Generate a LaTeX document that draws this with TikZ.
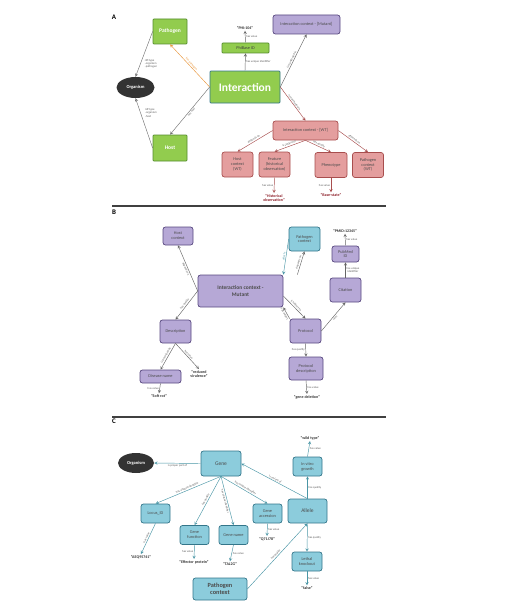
\documentclass[tikz,border=0pt]{standalone}
\usepackage{fontspec}
\setmainfont{Carlito}
\usetikzlibrary{shapes.geometric}
\definecolor{phigreen}{RGB}{146,204,78}
\definecolor{phigreenline}{RGB}{84,140,44}
\definecolor{phipurple}{RGB}{182,168,214}
\definecolor{phipurpleline}{RGB}{88,72,128}
\definecolor{phired}{RGB}{228,158,158}
\definecolor{phiredline}{RGB}{168,78,78}
\definecolor{phiblue}{RGB}{140,204,220}
\definecolor{phiblueline}{RGB}{52,118,138}
\definecolor{phiteal}{RGB}{74,150,166}
\definecolor{phiorange}{RGB}{232,150,60}
\definecolor{valred}{RGB}{140,30,40}

\begin{document}
\begin{tikzpicture}[x=1pt,y=-1pt,>=stealth,line width=0.45pt,
  every node/.style={font=\fontsize{4.3}{4.8}\selectfont,align=center,inner sep=1pt},
  gbox/.style={rectangle,rounded corners=0.8pt,draw=phigreenline,fill=phigreen,line width=0.7pt},
  pbox/.style={rectangle,rounded corners=2.5pt,draw=phipurpleline,fill=phipurple,line width=0.7pt,text=black!70},
  rbox/.style={rectangle,rounded corners=2.5pt,draw=phiredline,fill=phired,line width=0.7pt,text=black!70},
  bbox/.style={rectangle,rounded corners=2.5pt,draw=phiblueline,fill=phiblue,line width=0.7pt,text=black!70},
  org/.style={ellipse,fill=black!80,text=white,minimum width=38,minimum height=21,font=\bfseries\fontsize{4.5}{5}\selectfont},
  lab/.style={font=\fontsize{2.9}{3.2}\selectfont,text=black!65,inner sep=0.8pt},
  val/.style={font=\bfseries\fontsize{4}{4.5}\selectfont,text=black!80},
  panel/.style={font=\bfseries\fontsize{7}{7}\selectfont}]
\useasboundingbox (0,0) rectangle (504,610);

% ---------------- A ----------------
\path
(114,17) node [panel] (labA) {A}
(170,31.5) node [gbox,minimum width=34,minimum height=25,text=white,font=\bfseries\fontsize{5.5}{6}\selectfont] (pathogen) {Pathogen}
(135.5,87.5) node [org] (organismA) {Organism}
(170,148) node [gbox,minimum width=34,minimum height=26,text=white,font=\bfseries\fontsize{5.5}{6}\selectfont] (host) {Host}
(245,87) node [gbox,draw=phiblueline,minimum width=70,minimum height=32,text=white,font=\bfseries\fontsize{11.5}{12}\selectfont] (interaction) {Interaction}
(245.5,48) node [gbox,minimum width=47,minimum height=10,text=black!75] (phiid) {PhiBase ID}
(245,28) node [val] (phi104) {``PHI:104''}
(306.5,24.5) node [pbox,minimum width=67,minimum height=19] (mutantA) {Interaction context - [Mutant]}
(305.5,130.5) node [rbox,minimum width=65,minimum height=19] (wt) {Interaction context - [WT]}
(237.5,164.5) node [rbox,minimum width=31,minimum height=25] (hostwt) {Host\\context\\(WT)}
(274.5,164.5) node [rbox,minimum width=31,minimum height=25] (feature) {Feature\\(historical\\observation)}
(331,165) node [rbox,minimum width=32,minimum height=25] (phenotype) {Phenotype}
(368,165) node [rbox,minimum width=31,minimum height=25] (pathwt) {Pathogen\\context\\(WT)}
(274,198) node [val,text=valred] (histobs) {``Historical\\observation''}
(331,195) node [val,text=valred] (basestate) {``Base-state''}
;

\draw[->,phiorange] (interaction.west) -- (pathogen.south) node[midway,sloped,above,lab,text=phiorange] {has pathogen};
\draw[->,black!55] (interaction.west) -- (host.north) node[midway,sloped,below,lab] {has host};
\draw[->,black!55] (pathogen.west) -- (organismA.north);
\draw[->,black!55] (host.west) -- (organismA.south);
\node[lab,align=left] (rdfpath) at (151,64) {rdf:type\\-organism\\-pathogen};
\node[lab,align=left] (rdfhost) at (151,113) {rdf:type\\-organism\\-host};
\draw[->,black!60] (interaction.north) -- (phiid.south) node[midway,right,lab] {has unique identifier};
\draw[->,black!60] (phiid.north) -- (phi104.south) node[midway,right,lab] {has value};
\draw[->,black!60] (interaction.east) -- (mutantA.south) node[midway,sloped,above,lab] {is manifested in};
\begin{scope}[every path/.style={draw=phiredline},->]
\path (interaction.east) -- (wt.north) node[midway,sloped,above,lab] {is manifested in};
\path (wt.west) -- (hostwt.north) node[midway,sloped,above,lab] {depends on};
\path (wt.south) -- (feature.north) node[midway,sloped,above,lab] {is subject to};
\path (wt.south) -- (phenotype.north) node[midway,sloped,above,lab] {has quality};
\path (wt.east) -- (pathwt.north) node[midway,sloped,above,lab] {depends on};
\path (feature.south) -- (histobs.north) node[midway,left,lab] {has value};
\path (phenotype.south) -- (basestate.north) node[midway,left,lab] {has value};
\end{scope}

\draw[line width=1.1pt,black!75] (112,206) -- (386,206);

% ---------------- B ----------------
\path
(114,212) node [panel] (labB) {B}
(178,236) node [pbox,minimum width=30,minimum height=18] (hostctx) {Host\\context}
(240.5,291) node [pbox,minimum width=85,minimum height=32,font=\bfseries\fontsize{5.5}{6.5}\selectfont] (icm) {Interaction context -\\Mutant}
(304.5,239) node [bbox,minimum width=31,minimum height=24] (pathctxB) {Pathogen\\context}
(345.5,254) node [pbox,minimum width=27,minimum height=16] (pubmed) {PubMed\\ID}
(345,231) node [val] (pmid) {``PMID:12345''}
(345.5,290) node [pbox,minimum width=31,minimum height=24] (citation) {Citation}
(305.5,331) node [pbox,minimum width=31,minimum height=24] (protocol) {Protocol}
(306,368.5) node [pbox,minimum width=34,minimum height=23] (protdesc) {Protocol\\description}
(307,397) node [val] (genedel) {``gene deletion''}
(175.5,331.5) node [pbox,minimum width=31,minimum height=23] (descr) {Description}
(160.5,376.5) node [pbox,minimum width=41,minimum height=13] (disname) {Disease name}
(159,396) node [val] (softrot) {``Soft rot''}
(199,374) node [val] (redvir) {``reduced\\virulence''}
;

\begin{scope}[every path/.style={draw=black!60},->]
\path (icm.west) -- (hostctx.south) node[midway,sloped,below,lab] {depends on};
\path (icm.west) -- (descr.north) node[midway,sloped,above,lab] {has quality};
\path (descr.south) -- (disname.north) node[midway,sloped,above,lab] {is described by};
\path (descr.south) -- (redvir.north) node[midway,sloped,above,lab] {has value};
\path (disname.south) -- (softrot.north) node[midway,left,lab] {has value};
\path (icm.north east) ++(14,0) -- (pathctxB.south) node[midway,sloped,above,lab] {depends on};
\path (icm.east) ++(0,5) -- (protocol.north) node[midway,sloped,above,lab] {is subject to};
\path (protocol.north west) -- (icm.south east) node[midway,sloped,below,lab] {has output};
\path (protocol.east) -- (citation.south) node[midway,sloped,below,lab] {cites};
\path (citation.north) -- (pubmed.south) node[midway,right,lab] {has unique\\identifier};
\path (pubmed.north) -- (pmid.south) node[midway,right,lab] {has value};
\path (protocol.south) -- (protdesc.north) node[midway,left,lab] {has quality};
\path (protdesc.south) -- (genedel.north) node[midway,right,lab] {has value};
\end{scope}
\draw[->,phiteal] (pathctxB.west) -- (icm.north east) node[midway,sloped,above,lab,text=phiteal] {affects};

\draw[line width=1.1pt,black!75] (112,417) -- (386,417);

% ---------------- C ----------------
\path
(114,421) node [panel] (labC) {C}
(136,463) node [org,minimum width=36,minimum height=20] (organismC) {Organism}
(221,463.5) node [bbox,minimum width=40,minimum height=25,font=\fontsize{5.5}{6}\selectfont] (gene) {Gene}
(155.5,513.5) node [bbox,minimum width=29,minimum height=19] (locus) {Locus\_ID}
(194.5,535) node [bbox,minimum width=29,minimum height=19] (genefn) {Gene\\function}
(233.5,535) node [bbox,minimum width=29,minimum height=19] (genename) {Gene name}
(267.5,513.5) node [bbox,minimum width=29,minimum height=19] (geneacc) {Gene\\accession}
(220,589) node [bbox,minimum width=54,minimum height=22,font=\bfseries\fontsize{6.3}{7}\selectfont] (pathctxC) {Pathogen\\context}
(307.5,511) node [bbox,minimum width=39,minimum height=24,font=\fontsize{5.5}{6}\selectfont] (allele) {Allele}
(307.5,466.5) node [bbox,minimum width=29,minimum height=19] (invitro) {In vitro\\growth}
(307,561.5) node [bbox,minimum width=30,minimum height=19] (lethal) {Lethal\\knockout}
(141,557) node [val] (aeq) {``AEQ95741''}
(194,562) node [val] (effprot) {``Effector protein''}
(230,564) node [val] (tal) {``TAL2G''}
(267,539) node [val] (q71) {``Q71J78''}
(310,438) node [val] (wild) {``wild type''}
(307,588) node [val] (falsev) {``false''}
;

\begin{scope}[every path/.style={draw=phiteal},->]
\path (gene.west) -- (organismC.east) node[midway,below,lab] {is proper part of};
\path (gene.south) -- (locus.north) node[midway,sloped,above,lab] {has unique identifier};
\path (gene.south) -- (genefn.north) node[midway,sloped,above,lab] {has quality};
\path (gene.south) -- (genename.north) node[midway,sloped,below,lab] {has unique identifier};
\path (gene.south) -- (geneacc.north) node[midway,sloped,above,lab] {has unique identifier};
\path (locus.south) -- (aeq.north) node[midway,sloped,above,lab] {has value};
\path (genefn.south) -- (effprot.north) node[midway,left,lab] {has value};
\path (genename.south) -- (tal.north) node[midway,right,lab] {has value};
\path (geneacc.south) -- (q71.north) node[midway,right,lab] {has value};
\path (allele.north) -- (gene.east) node[midway,sloped,above,lab] {is variant of};
\path (allele.north) -- (invitro.south) node[midway,right,lab] {has quality};
\path (invitro.north) -- (wild.south) node[midway,right,lab] {has value};
\path (allele.south) -- (lethal.north) node[midway,right,lab] {has quality};
\path (lethal.south) -- (falsev.north) node[midway,right,lab] {has value};
\path (pathctxC.east) -- (allele.south) node[midway,sloped,above,lab] {has quality};
\end{scope}
\end{tikzpicture}
\end{document}
